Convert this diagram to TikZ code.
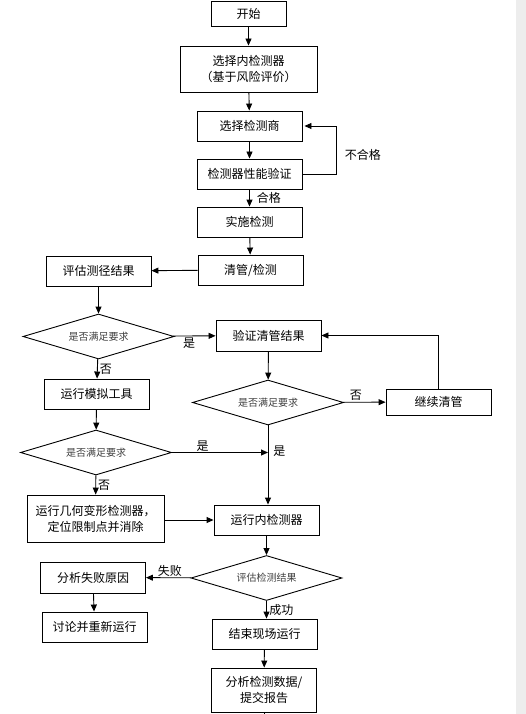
\documentclass[tikz,border=0pt]{standalone}
\usepackage{fontspec}
\setmainfont{Noto Sans CJK SC}
\usetikzlibrary{shapes.geometric, arrows.meta, positioning}

\begin{document}
\begin{tikzpicture}[x=1pt, y=-1pt,
    box/.style={rectangle, draw, line width=0.9pt, minimum width=105pt, 
                minimum height=30pt, inner sep=0pt, align=center, font=\fontsize{12}{16}\selectfont},
    dec/.style={diamond, draw, line width=0.9pt, minimum width=151pt, minimum height=45pt,
                aspect=3.3, inner sep=0pt, text=black!75, font=\fontsize{10}{12}\selectfont},
    lab/.style={inner sep=1pt, font=\fontsize{12}{14}\selectfont},
    arr/.style={-{Triangle[length=7pt, width=6pt]}, line width=0.9pt}]
    
    \useasboundingbox (0,0) rectangle (526,714);
    \fill[black!7] (516,0) rectangle (526,714);
    
    \node[box, minimum width=75pt, minimum height=25pt] (start) at (248.5,13.5) {开始};
    \node[box, minimum width=137pt, minimum height=46pt] (select) at (248.5,69) {选择内检测器\\（基于风险评价）};
    \node[box] (vendor) at (249.5,126) {选择检测商};
    \node[box] (verify) at (249.5,174) {检测器性能验证};
    \node[box] (run) at (249.5,222) {实施检测};
    \node[box] (clean) at (250.5,270) {清管/检测};
    \node[box] (gauge) at (98.5,271) {评估测径结果};
    \node[dec] (q1) at (98.5,336.5) {是否满足要求};
    \node[box, minimum height=31pt] (check) at (268.5,335.5) {验证清管结果};
    \node[box] (sim) at (96.5,394) {运行模拟工具};
    \node[dec] (q2) at (268,402.5) {是否满足要求};
    \node[box, minimum height=26pt] (more) at (438.5,402) {继续清管};
    \node[dec] (q3) at (96,452.5) {是否满足要求};
    \node[box, minimum width=137pt, minimum height=47pt] (geo) at (95.5,518.5) {运行几何变形检测器，\\定位限制点并消除};
    \node[box] (ili) at (266.5,520) {运行内检测器};
    \node[dec] (q4) at (266.5,578) {评估检测结果};
    \node[box, minimum height=31pt] (fail) at (93,577.5) {分析失败原因};
    \node[box] (rerun) at (94.5,627) {讨论并重新运行};
    \node[box] (finish) at (264.5,634) {结束现场运行};
    \node[box, minimum height=44pt] (data) at (264,690) {分析检测数据/\\提交报告};
    \coordinate (out) at (264,714);
    
    \draw[arr] (start) -- (select);
    \draw[arr] (select) -- (vendor);
    \draw[arr] (vendor) -- (verify);
    \draw[arr] (verify) -- node[lab, right=6pt]{合格} (run);
    \draw[arr] (verify.east) -- ++(34,0) |- node[lab, right=7pt, pos=0.2]{不合格} ([xshift=2pt]vendor.east);
    \draw[arr] (run) -- (clean);
    \draw[arr] (clean) -- (gauge);
    \draw[arr] (gauge) -- (q1);
    \draw[arr] (q1) -- node[lab, below, pos=0.38]{是} (check);
    \draw[arr] (q1) -- node[lab, right=1pt]{否} (sim);
    \draw[arr] (check) -- (q2);
    \draw[arr] (q2) -- node[lab, above, pos=0.3]{否} (more);
    \draw[arr] (more.north) |- (check.east);
    \draw[arr] (q2.south) -- node[lab, right=4pt, pos=0.33]{是} (q2.south |- ili.north);
    \draw[arr] (sim) -- (q3);
    \draw[arr] (q3.east) -- node[lab, above, pos=0.32]{是} (q2.south |- q3.east);
    \draw[arr] (q3) -- node[lab, right=1pt]{否} (geo);
    \draw[arr] (geo.east |- ili.west) -- (ili.west);
    \draw[arr] (ili) -- (q4);
    \draw[arr] (q4) -- node[lab, above, pos=0.47]{失败} (fail);
    \draw[arr] (fail) -- (rerun);
    \draw[arr] (q4.south) -- node[lab, right=1.5pt]{成功} (q4.south |- finish.north);
    \draw[arr] (finish) -- (data);
    \draw[thick] (data) -- (out);
\end{tikzpicture}
\end{document}
